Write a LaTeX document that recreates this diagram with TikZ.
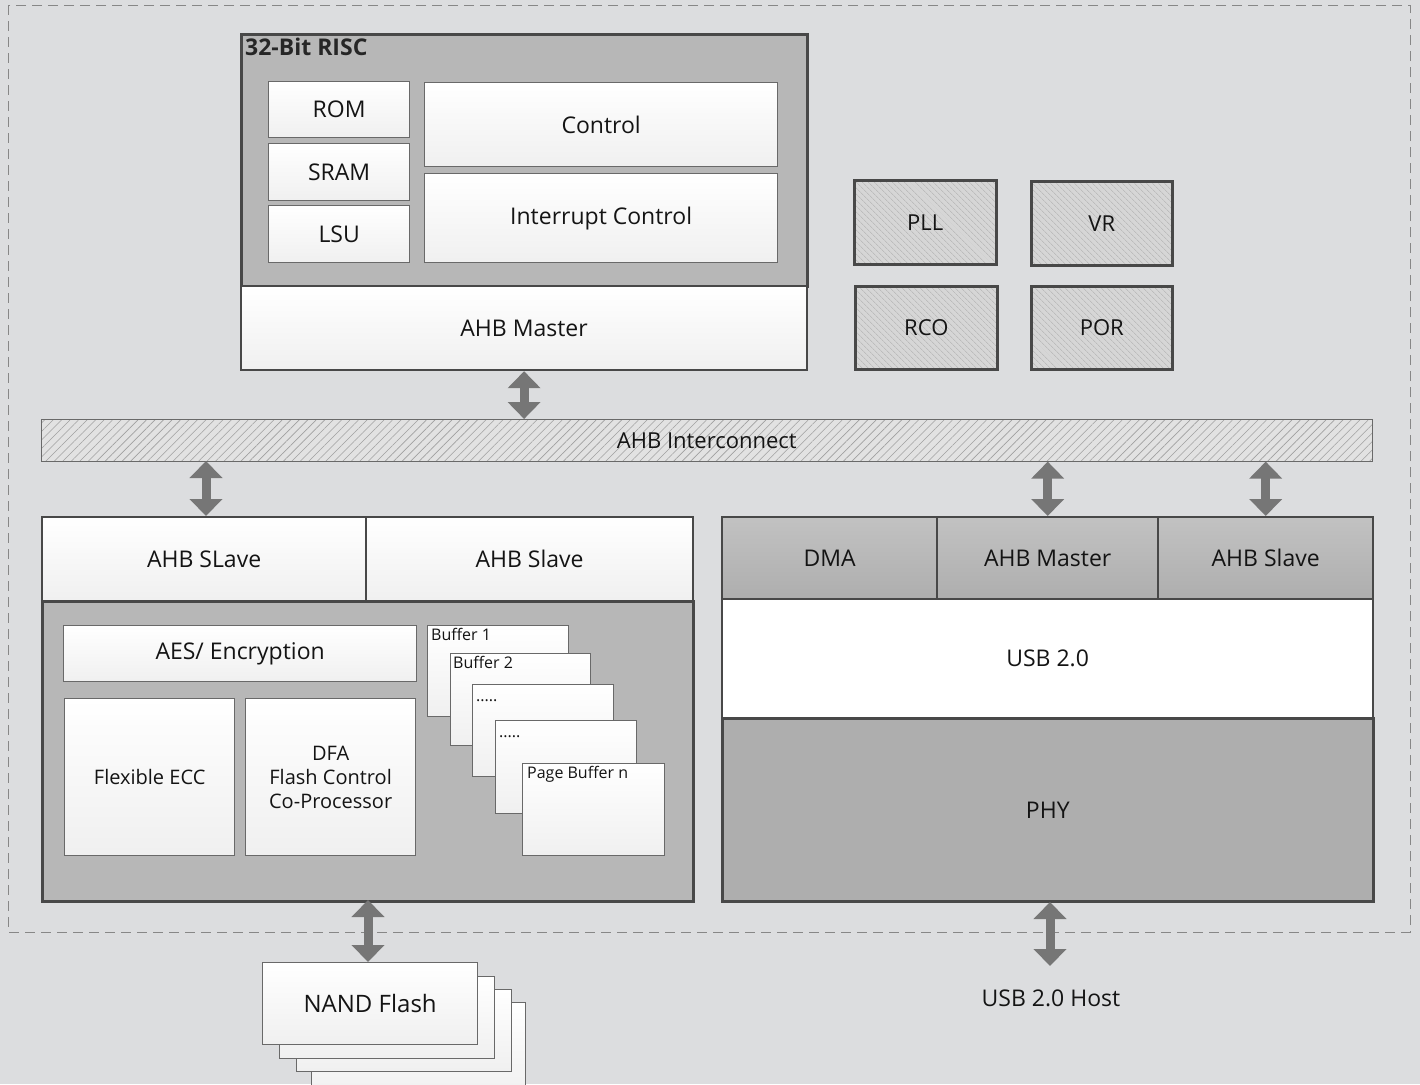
\documentclass[tikz,border=0pt]{standalone}
\usepackage{fontspec}
\setmainfont{Open Sans}
\usetikzlibrary{arrows.meta,patterns.meta}
\definecolor{bg}{RGB}{220,221,223}
\definecolor{dashc}{RGB}{135,135,135}
\definecolor{boxgray}{RGB}{183,183,183}
\definecolor{edge}{RGB}{72,72,72}
\definecolor{thinedge}{RGB}{105,105,105}
\definecolor{arrowc}{RGB}{118,118,118}
\definecolor{hatchbg}{RGB}{214,214,214}
\definecolor{hatchln}{RGB}{175,175,175}
\definecolor{icbg}{RGB}{226,226,226}
\definecolor{icln}{RGB}{160,160,160}
\tikzset{
  txt/.style={font=\fontsize{23}{27}\selectfont, text=black!92},
  whitebox/.style={draw=thinedge, line width=1.3pt, top color=white, bottom color=black!6, txt},
  whitebig/.style={draw=edge, line width=2.2pt, top color=white, bottom color=black!6, txt},
  graybox/.style={draw=edge, line width=2.6pt, fill=boxgray, txt},
  grayrow/.style={draw=edge, line width=2.4pt, top color=boxgray!85!white, bottom color=boxgray!95!black, txt},
  hatchbox/.style={draw=edge, line width=2.6pt, preaction={fill=hatchbg},
     pattern={Lines[angle=-45,distance=4pt,line width=0.5pt]}, pattern color=hatchln,
     font=\fontsize{22}{26}\selectfont, text=black!92},
  icbox/.style={draw=thinedge, line width=1pt, preaction={fill=icbg},
     pattern={Lines[angle=45,distance=6pt,line width=0.6pt]}, pattern color=icln,
     font=\fontsize{22}{26}\selectfont, text=black!92},
  dblarrow/.style={draw=arrowc, line width=9pt,
     {Triangle[length=17pt,width=32pt]}-{Triangle[length=17pt,width=32pt]}},
  buflabel/.style={anchor=north west, inner sep=0pt, text height=12pt, text depth=4pt,
     font=\fontsize{16}{19}\selectfont, text=black!92},
}
\newcommand\bx[7][]{\node[#1, anchor=north west, inner sep=0pt, align=center,
   minimum width={(#4-#2)*1pt}, minimum height={(#5-#3)*1pt}] (#6) at (#2,#3) {#7};}
\begin{document}
\begin{tikzpicture}[x=1pt,y=-1pt]
\useasboundingbox (0,0) rectangle (1420,1084);
\fill[bg] (0,0) rectangle (1420,1084);
% outer dashed boundary
\coordinate (dtl) at (8,5);
\coordinate (dbr) at (1410,932);
\draw[dashc, line width=1pt, dash pattern=on 10pt off 6pt] (dtl) rectangle (dbr);

% 32-bit RISC
\bx[graybox]{240}{33}{806}{285}{risc}{}
\node[anchor=north west, inner sep=0pt, font=\fontsize{23}{27}\selectfont\bfseries, text=black!85] (risct) at (245,38) {32-Bit RISC};
\bx[whitebox]{268}{81}{409}{137}{rom}{ROM}
\bx[whitebox]{268}{143}{409}{200}{sram}{SRAM}
\bx[whitebox]{268}{205}{409}{262}{lsu}{LSU}
\bx[whitebox]{424}{82}{777}{166}{ctrl}{Control}
\bx[whitebox]{424}{173}{777}{262}{intc}{Interrupt Control}
\bx[whitebig]{240}{285}{806}{369}{ahbm}{AHB Master}

% PLL etc
\bx[hatchbox]{854}{180}{996}{264}{pll}{PLL}
\bx[hatchbox]{1030}{180}{1171}{264}{vr}{VR}
\bx[hatchbox]{854}{285}{996}{368}{rco}{RCO}
\bx[hatchbox]{1030}{285}{1171}{368}{por}{POR}

% interconnect
\bx[icbox]{41}{419}{1372}{461}{ic}{AHB Interconnect}

% left block
\bx[graybox]{41}{600}{692}{900}{flash}{}
\bx[whitebig]{41}{516}{365}{600}{ahbs1}{AHB SLave}
\bx[whitebig]{365}{516}{692}{600}{ahbs2}{AHB Slave}
\bx[whitebox]{63}{625}{416}{681}{aes}{AES/ Encryption}
\bx[whitebox, font=\fontsize{20}{24}\selectfont]{64}{698}{234}{855}{ecc}{Flexible ECC}
\bx[whitebox, font=\fontsize{20}{24}\selectfont]{245}{698}{415}{855}{dfa}{DFA\\Flash Control\\Co-Processor}

\bx[whitebox]{427}{625}{568}{716}{buf1}{}
\node[buflabel] (buf1t) at (431,628) {Buffer 1};
\bx[whitebox]{450}{653}{590}{745}{buf2}{}
\node[buflabel] (buf2t) at (453,656) {Buffer 2};
\bx[whitebox]{472}{684}{613}{776}{buf3}{}
\node[buflabel] (buf3t) at (476,689) {.....};
\bx[whitebox]{495}{720}{636}{813}{buf4}{}
\node[buflabel] (buf4t) at (499,725) {.....};
\bx[whitebox]{522}{763}{664}{855}{bufn}{}
\node[buflabel] (bufnt) at (527,766) {Page Buffer n};

% right block
\bx[grayrow]{721}{516}{936}{598}{dma}{DMA}
\bx[grayrow]{936}{516}{1157}{598}{ahbm2}{AHB Master}
\bx[grayrow]{1157}{516}{1372}{598}{ahbs3}{AHB Slave}
\bx[whitebig, top color=white, bottom color=white]{721}{598}{1372}{717}{usb}{USB 2.0}
\bx[graybox, fill=boxgray!95!black]{721}{717}{1372}{900}{phy}{PHY}

% NAND flash stack
\bx[whitebox]{311}{1002}{525}{1100}{nand4}{}
\bx[whitebox]{296}{989}{511}{1071}{nand3}{}
\bx[whitebox]{279}{976}{494}{1058}{nand2}{}
\bx[whitebox, font=\fontsize{24}{28}\selectfont]{262}{962}{477}{1044}{nand}{NAND Flash}

% USB host
\node[font=\fontsize{23}{27}\selectfont, text=black!92, inner sep=0pt] (host) at (1051,998) {USB 2.0 Host};
\coordinate (hostin) at (1050,966);

% arrows
\draw[dblarrow] (ahbm.south) -- (ahbm.south |- ic.north);
\coordinate (a1t) at (206,461);
\coordinate (a1b) at (206,516);
\draw[dblarrow] (a1t) -- (a1b);
\draw[dblarrow] (ahbm2.north |- ic.south) -- (ahbm2.north);
\draw[dblarrow] (ahbs3.north |- ic.south) -- (ahbs3.north);
\coordinate (nandtop) at (368,962);
\coordinate (flashbot) at (368,900);
\draw[dblarrow] (flashbot) -- (nandtop);
\coordinate (phybot) at (1050,902);
\draw[dblarrow] (phybot) -- (hostin);
\end{tikzpicture}
\end{document}
